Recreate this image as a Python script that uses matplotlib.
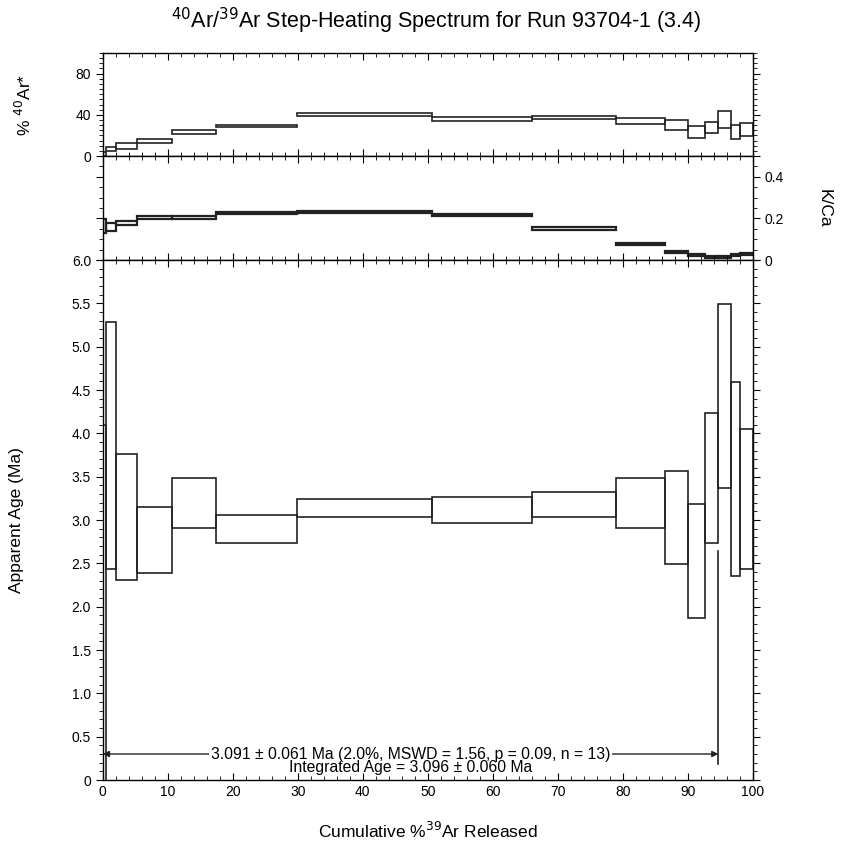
import numpy as np
import matplotlib
matplotlib.use("Agg")
import matplotlib.pyplot as plt
from matplotlib.ticker import MultipleLocator, FixedLocator

plt.rcParams['font.family'] = ['Liberation Sans Narrow', 'Liberation Sans', 'DejaVu Sans']

# step boundaries, cumulative % 39Ar
edges = [0, 0.55, 2.0, 5.2, 10.6, 17.4, 29.8, 50.6, 66.0, 78.9, 86.5,
         90.1, 92.7, 94.7, 96.6, 98.0, 100.0]

# apparent age (Ma), lower / upper edge of each box
age_lo = [-0.5, 2.44, 2.31, 2.39, 2.91, 2.74, 3.03, 2.97, 3.03, 2.91, 2.49,
          1.87, 2.73, 3.37, 2.35, 2.44]
age_hi = [4.10, 5.28, 3.76, 3.15, 3.48, 3.06, 3.24, 3.27, 3.32, 3.49, 3.56,
          3.19, 4.24, 5.49, 4.59, 4.05]

# % 40Ar*
rad_lo = [0.5, 4.8, 6.7, 12.5, 21.2, 27.7, 39.3, 34.0, 35.7, 30.9, 24.8,
          17.1, 21.9, 27.0, 16.1, 19.3]
rad_hi = [4.0, 9.0, 12.2, 16.1, 24.8, 30.2, 41.5, 38.2, 38.9, 37.0, 34.7,
          29.6, 33.5, 43.4, 30.6, 32.5]

# K/Ca
kca_lo = [0.130, 0.140, 0.166, 0.199, 0.199, 0.223, 0.224, 0.211, 0.145,
          0.071, 0.034, 0.021, 0.010, 0.010, 0.018, 0.023]
kca_hi = [0.195, 0.178, 0.186, 0.213, 0.211, 0.232, 0.234, 0.221, 0.157,
          0.084, 0.045, 0.031, 0.019, 0.019, 0.027, 0.032]

plateau = (0.0, 94.7)
plateau_text = "3.091 \u00b1 0.061 Ma (2.0%, MSWD = 1.56, p = 0.09, n = 13)"
integrated_text = "Integrated Age = 3.096 \u00b1 0.060 Ma"

left = np.array(edges[:-1])
width = np.diff(edges)

fig = plt.figure(figsize=(8.43, 8.47), dpi=100)
ax1 = fig.add_axes([0.122, 0.8158, 0.771, 0.1216])
ax2 = fig.add_axes([0.122, 0.6930, 0.771, 0.1228])
ax3 = fig.add_axes([0.122, 0.0791, 0.771, 0.6139])


def boxes(ax, lo, hi, lw=1.2):
    lo = np.array(lo)
    hi = np.array(hi)
    ax.bar(left, hi - lo, width, bottom=lo, align='edge', fill=False,
           edgecolor='#222222', linewidth=lw)


boxes(ax1, rad_lo, rad_hi)
boxes(ax2, kca_lo, kca_hi, lw=1.6)
boxes(ax3, age_lo, age_hi)

for ax in (ax1, ax2, ax3):
    ax.set_xlim(0, 100)
    ax.xaxis.set_major_locator(MultipleLocator(10))
    ax.xaxis.set_minor_locator(MultipleLocator(2))
    ax.tick_params(axis='x', which='both', direction='in', top=True, bottom=True)
    ax.tick_params(axis='x', which='major', length=5)
    ax.tick_params(axis='x', which='minor', length=3)
    ax.tick_params(axis='y', which='both', direction='out', left=True, right=True)
    ax.tick_params(axis='y', which='major', length=5)
    ax.tick_params(axis='y', which='minor', length=3)
    ax.tick_params(labelsize=10)
    for s in ax.spines.values():
        s.set_linewidth(1.0)

ax1.set_ylim(0, 100)
ax1.yaxis.set_major_locator(FixedLocator([0, 40, 80]))
ax1.yaxis.set_minor_locator(MultipleLocator(5))
ax1.tick_params(labelbottom=False)
ax1.set_ylabel("% $^{40}$Ar*", fontsize=12.5, labelpad=30)

ax2.set_ylim(0, 0.5)
ax2.yaxis.set_major_locator(FixedLocator([0, 0.2, 0.4]))
ax2.yaxis.set_minor_locator(MultipleLocator(0.05))
ax2.set_yticklabels(["0", "0.2", "0.4"])
ax2.tick_params(labelbottom=False, labelleft=False, labelright=True)
ax2.yaxis.set_label_position('right')
ax2.set_ylabel("K/Ca", fontsize=12.5, rotation=270, labelpad=34)

ax3.set_ylim(0, 6.0)
ax3.set_yticks(np.arange(0, 6.01, 0.5))
ax3.yaxis.set_minor_locator(MultipleLocator(0.1))
ax3.set_yticklabels(["0"] + ["%.1f" % v for v in np.arange(0.5, 6.01, 0.5)])
ax3.set_ylabel("Apparent Age (Ma)", fontsize=12.5, labelpad=34)
ax3.set_xticks(np.arange(0, 101, 10))
ax3.set_xticklabels([str(v) for v in range(0, 101, 10)])
ax3.set_xlabel("Cumulative %$^{39}$Ar Released", fontsize=12.5, labelpad=16)

# plateau arrow and end marker
ax3.annotate("", xy=(plateau[1], 0.30), xytext=(plateau[0], 0.30),
             arrowprops=dict(arrowstyle='<|-|>', color='#222222', lw=1.0,
                             mutation_scale=9, shrinkA=0, shrinkB=0))
ax3.plot([plateau[1], plateau[1]], [0.19, 2.64], color='#222222', lw=1.2)
mid = (plateau[0] + plateau[1]) / 2
ax3.text(mid, 0.30, plateau_text, ha='center', va='center', fontsize=11.3,
         bbox=dict(facecolor='white', edgecolor='none', pad=1.0))
ax3.text(mid, 0.14, integrated_text, ha='center', va='center', fontsize=11.3)

fig.text(0.518, 0.975, "$^{40}$Ar/$^{39}$Ar Step-Heating Spectrum for Run 93704-1 (3.4)",
         ha='center', va='center', fontsize=15.5)

fig.savefig("out.png", dpi=100)
